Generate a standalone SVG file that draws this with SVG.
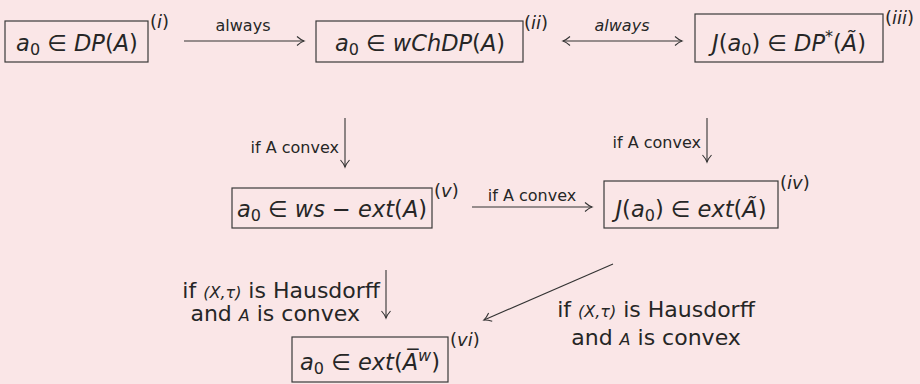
<svg xmlns="http://www.w3.org/2000/svg" width="920" height="384" viewBox="0 0 920 384">
<defs>
<style>
text{font-family:"DejaVu Sans","Liberation Sans",sans-serif;fill:#262626}
.m{font-size:22.5px;text-anchor:middle}
.i{font-style:italic}
.sb{font-size:16px}
.sup{font-size:18px}
.lb{font-size:16px}
.hl{font-size:22px}
.sm{font-size:16px;font-style:italic}
.box{fill:none;stroke:#3a3a3a;stroke-width:1.2}
.c{stroke:#333;stroke-width:1.1;fill:none}
</style>
<marker id="ah" markerUnits="userSpaceOnUse" markerWidth="12" markerHeight="12" viewBox="-8 -6 10 12" refX="0" refY="0" orient="auto-start-reverse">
<path d="M-7,-4.5 Q-3,-1 0,0 Q-3,1 -7,4.5" fill="none" stroke="#333" stroke-width="1.1"/>
</marker>
</defs>
<rect width="920" height="384" fill="#fae6e7"/>

<g id="connectors">
<line class="c" x1="184" y1="41" x2="304" y2="41" marker-end="url(#ah)"/>
<text class="lb" x="243" y="31" text-anchor="middle">always</text>
<line class="c" x1="563" y1="41" x2="682" y2="41" marker-start="url(#ah)" marker-end="url(#ah)"/>
<text class="lb i" x="622" y="31" text-anchor="middle">always</text>
<line class="c" x1="345" y1="118" x2="345" y2="167" marker-end="url(#ah)"/>
<text class="lb" x="339" y="153" text-anchor="end">if A convex</text>
<line class="c" x1="707" y1="118" x2="707" y2="162" marker-end="url(#ah)"/>
<text class="lb" x="701" y="148" text-anchor="end">if A convex</text>
<line class="c" x1="472" y1="207" x2="592" y2="207" marker-end="url(#ah)"/>
<text class="lb" x="532" y="201" text-anchor="middle">if A convex</text>
<line class="c" x1="386" y1="270" x2="386" y2="318" marker-end="url(#ah)"/>
<text class="hl" x="380" y="298" text-anchor="end">if <tspan class="sm">(X,τ)</tspan> is Hausdorff</text>
<text class="hl" x="360" y="321" text-anchor="end">and <tspan class="sm">A</tspan> is convex</text>
<line class="c" x1="613" y1="264" x2="484" y2="320" marker-end="url(#ah)"/>
<text class="hl" x="656" y="317" text-anchor="middle">if <tspan class="sm">(X,τ)</tspan> is Hausdorff</text>
<text class="hl" x="656" y="345" text-anchor="middle">and <tspan class="sm">A</tspan> is convex</text>
</g>

<g id="n1">
<rect class="box" x="5" y="21" width="143" height="41"/>
<text class="m" x="77" y="51"><tspan class="i">a</tspan><tspan class="sb" dy="4">0</tspan><tspan dy="-4"> ∈ </tspan><tspan class="i">DP</tspan>(<tspan class="i">A</tspan>)</text>
<text class="sup" x="150" y="28">(<tspan class="i">i</tspan>)</text>
</g>

<g id="n2">
<rect class="box" x="316" y="21" width="207" height="41"/>
<text class="m" x="420" y="51"><tspan class="i">a</tspan><tspan class="sb" dy="4">0</tspan><tspan dy="-4"> ∈ </tspan><tspan class="i">wChDP</tspan>(<tspan class="i">A</tspan>)</text>
<text class="sup" x="524" y="29">(<tspan class="i">ii</tspan>)</text>
</g>

<g id="n3">
<rect class="box" x="695" y="14" width="188" height="48"/>
<text class="m" x="789" y="51"><tspan class="i">J</tspan>(<tspan class="i">a</tspan><tspan class="sb" dy="4">0</tspan><tspan dy="-4">) ∈ </tspan><tspan class="i">DP</tspan><tspan class="sb" dy="-9">*</tspan><tspan dy="9">(</tspan><tspan class="i">A&#x303;</tspan>)</text>
<text class="sup" x="885" y="24">(<tspan class="i">iii</tspan>)</text>
</g>

<g id="n4">
<rect class="box" x="604" y="181" width="174" height="47"/>
<text class="m" x="691" y="217"><tspan class="i">J</tspan>(<tspan class="i">a</tspan><tspan class="sb" dy="4">0</tspan><tspan dy="-4">) ∈ </tspan><tspan class="i">ext</tspan>(<tspan class="i">A&#x303;</tspan>)</text>
<text class="sup" x="780" y="189">(<tspan class="i">iv</tspan>)</text>
</g>

<g id="n5">
<rect class="box" x="232" y="188" width="200" height="40"/>
<text class="m" x="332" y="217"><tspan class="i">a</tspan><tspan class="sb" dy="4">0</tspan><tspan dy="-4"> ∈ </tspan><tspan class="i">ws</tspan> − <tspan class="i">ext</tspan>(<tspan class="i">A</tspan>)</text>
<text class="sup" x="434" y="197">(<tspan class="i">v</tspan>)</text>
</g>

<g id="n6">
<rect class="box" x="292" y="337" width="156" height="45"/>
<text class="m" x="370" y="370"><tspan class="i">a</tspan><tspan class="sb" dy="4">0</tspan><tspan dy="-4"> ∈ </tspan><tspan class="i">ext</tspan>(<tspan class="i">A&#x305;</tspan><tspan class="sb i" dy="-9">w</tspan><tspan dy="9">)</tspan></text>
<text class="sup" x="450" y="346">(<tspan class="i">vi</tspan>)</text>
</g>
</svg>
